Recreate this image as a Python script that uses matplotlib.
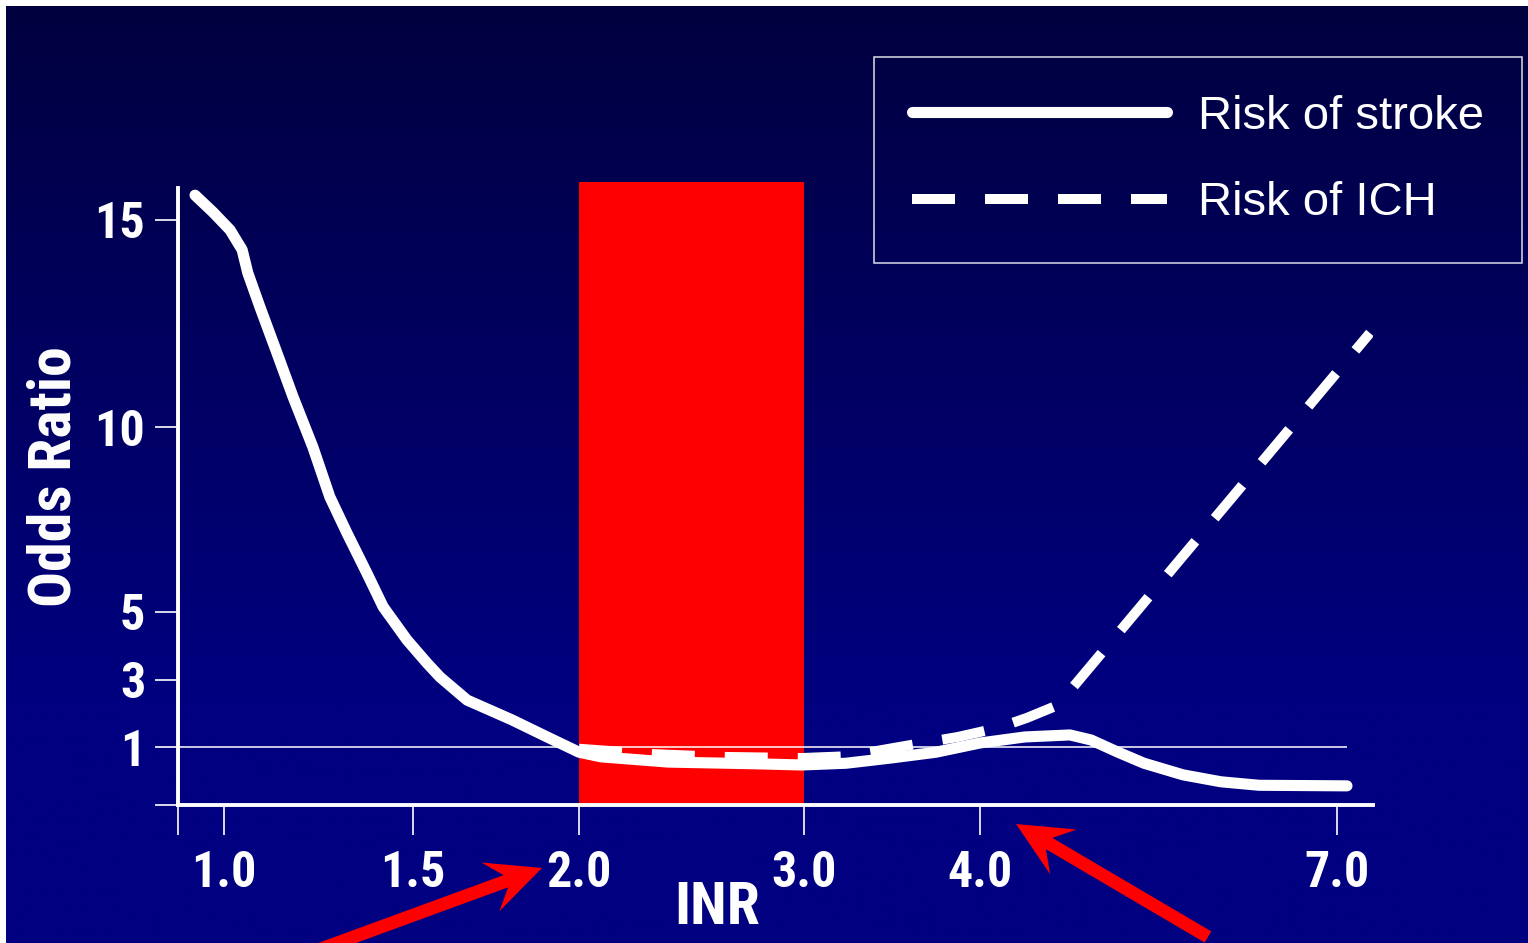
import numpy as np
import matplotlib
matplotlib.use("Agg")
import matplotlib.pyplot as plt
from matplotlib.patches import FancyArrow
from matplotlib.transforms import IdentityTransform

# ---- data ----
inr_ticks = [0.9, 1.0, 1.5, 2.0, 3.0, 4.0, 7.0]
inr_labels = ["", "1.0", "1.5", "2.0", "3.0", "4.0", "7.0"]
or_ticks = [0, 1, 3, 5, 10, 15]
or_labels = ["", "1", "3", "5", "10", "15"]

stroke_inr = [0.937, 0.976, 1.016, 1.048, 1.063, 1.095, 1.140, 1.183, 1.235,
              1.280, 1.325, 1.378, 1.421, 1.484, 1.542, 1.581, 1.663, 1.798,
              1.904, 2.000, 2.098, 2.396, 2.791, 2.991, 3.239, 3.494, 3.750,
              4.000, 4.378, 4.756, 4.933, 5.160, 5.378, 5.706, 6.025, 6.345,
              7.084]
stroke_or = [15.60, 15.19, 14.76, 14.28, 13.72, 12.90, 11.79, 10.72, 9.46,
             8.11, 7.14, 6.05, 5.14, 4.18, 3.50, 3.09, 2.40, 1.81,
             1.30, 0.91, 0.83, 0.74, 0.71, 0.69, 0.72, 0.81, 0.91,
             1.12, 1.30, 1.36, 1.21, 0.91, 0.72, 0.52, 0.40, 0.34,
             0.33]

ich_inr = [2.000, 2.316, 2.627, 2.991, 3.239, 3.574, 3.875, 4.151, 4.395,
           4.655, 7.277]
ich_or = [0.97, 0.88, 0.83, 0.81, 0.84, 1.03, 1.30, 1.57, 1.87, 2.25, 12.27]

target_range = (2.0, 3.0)
ref_or = 1

# ---- axis scales of the slide (value -> pixel), both piecewise linear ----
x_break_val = [0.9, 1.0, 1.5, 2.0, 3.0, 4.0, 7.0]
x_break_pix = [178, 224, 413, 579, 804, 980, 1337]
y_break_val = [0, 1, 3, 5, 10, 15]
y_break_pix = [-805, -747, -680, -612, -427, -220]

W, H = 1528, 943


def piecewise(vals, pix):
    vals = np.asarray(vals, float)
    pix = np.asarray(pix, float)
    s0 = (pix[1] - pix[0]) / (vals[1] - vals[0])
    s1 = (pix[-1] - pix[-2]) / (vals[-1] - vals[-2])

    def fwd(v):
        v = np.asarray(v, float)
        out = np.interp(v, vals, pix)
        out = np.where(v < vals[0], pix[0] + (v - vals[0]) * s0, out)
        return np.where(v > vals[-1], pix[-1] + (v - vals[-1]) * s1, out)

    def inv(p):
        p = np.asarray(p, float)
        out = np.interp(p, pix, vals)
        out = np.where(p < pix[0], vals[0] + (p - pix[0]) / s0, out)
        return np.where(p > pix[-1], vals[-1] + (p - pix[-1]) / s1, out)

    return fwd, inv


xf, xi = piecewise(x_break_val, x_break_pix)
yf, yi = piecewise(y_break_val, y_break_pix)

narrow = ["Liberation Sans Narrow", "Roboto Condensed", "Fira Sans Condensed",
          "DejaVu Sans"]
bold = {"family": narrow, "weight": "bold"}
plain = {"family": ["Liberation Sans", "DejaVu Sans"], "size": 34}

fig = plt.figure(figsize=(W / 100, H / 100), dpi=100, facecolor="white")

# background gradient
bg = fig.add_axes([6 / W, 0, (W - 6) / W, (H - 6) / H], zorder=-5)
rows = np.linspace(0, 1, 400)
blue = np.clip(0x3f + (0x80 - 0x3f) * rows / 0.74, 0, 0x80) / 255.
grad = np.zeros((400, 1, 3))
grad[:, 0, 2] = blue
bg.imshow(grad, aspect="auto", extent=(0, 1, 0, 1))
bg.set_axis_off()

ax = fig.add_axes([178 / W, (H - 805) / H, (1373 - 178) / W, (805 - 182) / H])
ax.set_facecolor("none")
ax.set_xscale("function", functions=(xf, xi))
ax.set_yscale("function", functions=(yf, yi))
ax.set_xlim(float(xi(178)), float(xi(1373)))
ax.set_ylim(float(yi(-805)), float(yi(-182)))

# target INR range
ax.axvspan(*target_range, ymin=0.004, ymax=1, color="#ff0000", lw=0, zorder=1)
ax.hlines(ref_or, inr_ticks[0], 7.08, color="white", lw=1.1, zorder=2)

ax.plot(stroke_inr, stroke_or, color="white", lw=8, solid_capstyle="round",
        solid_joinstyle="round", label="Risk of stroke", zorder=3)
ax.plot(ich_inr, ich_or, color="white", lw=7.2, dashes=(4.3, 3.0),
        dash_capstyle="butt", label="Risk of ICH", zorder=4)

for s in ["top", "right"]:
    ax.spines[s].set_visible(False)
for s in ["left", "bottom"]:
    ax.spines[s].set_color("white")
    ax.spines[s].set_linewidth(2.8)
ax.spines["left"].set_bounds(0, float(yi(-188)))

ax.set_xticks(inr_ticks)
ax.set_xticklabels(inr_labels, fontdict=bold, fontsize=36)
ax.set_yticks(or_ticks)
ax.set_yticklabels(or_labels, fontdict=bold, fontsize=36)
ax.xaxis.set_minor_locator(matplotlib.ticker.NullLocator())
ax.yaxis.set_minor_locator(matplotlib.ticker.NullLocator())
ax.tick_params(axis="x", colors="white", length=21.6, width=1.2, pad=11)
ax.tick_params(axis="y", colors="white", length=16.5, width=1.2, pad=7)

ax.set_ylabel("Odds Ratio", color="white", fontdict=bold, fontsize=43, va="center")
ax.yaxis.set_label_coords((55 - 178) / (1373 - 178), (805 - 477) / (805 - 182))
ax.set_xlabel("INR", color="white", fontdict=bold, fontsize=43, va="center")
ax.xaxis.set_label_coords((717 - 178) / (1373 - 178), (805 - 908) / (805 - 182))

leg = ax.legend(loc="upper left", bbox_to_anchor=(874 / W, 1 - 57 / H),
                bbox_transform=fig.transFigure, borderaxespad=0,
                fancybox=False, edgecolor="white", facecolor="none",
                prop=plain, labelcolor="white", handlelength=5.4,
                handletextpad=0.66, borderpad=0.8, labelspacing=0.9)
leg.get_frame().set_linewidth(1.2)

# red pointer arrows
for tail, tip in [((318, 950), (542, 868)), ((1208, 937), (1016, 824))]:
    x0, y0 = tail[0], H - tail[1]
    x1, y1 = tip[0], H - tip[1]
    fig.add_artist(FancyArrow(x0, y0, x1 - x0, y1 - y0, width=13,
                              head_width=52, head_length=55, overhang=0.3,
                              length_includes_head=True, color="#ff0000",
                              lw=0, transform=IdentityTransform()))

plt.savefig("out.png", dpi=100)
